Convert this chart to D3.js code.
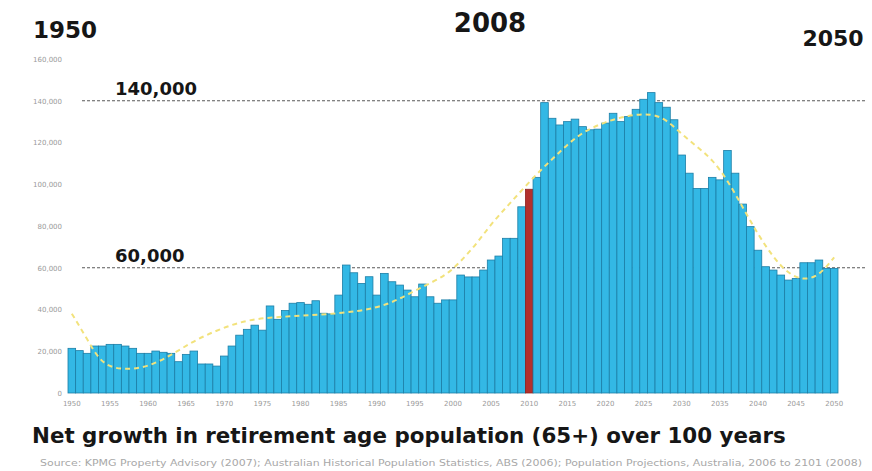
<!DOCTYPE html>
<html>
<head>
<meta charset="utf-8">
<script src="https://cdn.jsdelivr.net/npm/d3@7"></script>
<style>
    body { margin: 0; background: #fff; }
    .tick text { fill: #9a9a9a; font-family: "DejaVu Sans", sans-serif; font-size: 7px; }
    .tick line, .domain { display: none; }
    .big { font-family: "DejaVu Sans", sans-serif; font-weight: bold; fill: #161616; }
</style>
</head>
<body>
<div id="chart"></div>
<script>
'use strict';

// Data
const years = d3.range(1950, 2051);
const netGrowth = [
    21400, 20300, 19000, 22500, 22500, 23300, 23300, 22500, 21400, 19000,
    19000, 20100, 19500, 19000, 15000, 18500, 20100, 13900, 13900, 12900,
    17700, 22500, 27700, 30500, 32500, 30100, 41700, 35300, 39500, 43000,
    43300, 42500, 44200, 38200, 37900, 46900, 61300, 57600, 52500, 55700,
    46900, 57300, 53300, 51700, 49300, 46100, 52200, 46100, 43000, 44600,
    44600, 56500, 55600, 55600, 58900, 63700, 65600, 74100, 74100, 89200,
    97600, 103300, 139100, 131600, 128400, 130000, 131200, 127600, 126100, 126400,
    129300, 134000, 130000, 132400, 135900, 140700, 143900, 139100, 136900, 130900,
    114000, 105300, 98000, 98000, 103300, 102100, 116200, 105300, 90500, 79700,
    68400, 60500, 58900, 56500, 54100, 54900, 62400, 62400, 63700, 59700,
    59700
];
const highlightYear = 2010;

// Trend (yellow dashed)
const trendYears = [1950, 1952, 1954, 1957, 1960, 1963, 1966, 1969, 1972, 1975, 1980, 1985, 1990,
    1993, 1996, 1999, 2001, 2003, 2005, 2007, 2009, 2011, 2013, 2015, 2017, 2020, 2023, 2026,
    2028, 2030, 2032, 2034, 2036, 2038, 2040, 2042, 2044, 2046, 2048, 2050];
const trendValues = [38000, 26000, 13000, 11000, 12500, 18000, 25000, 30000, 34000, 36000, 37000, 38000, 40500,
    45000, 51000, 56000, 63000, 71000, 81000, 89000, 97000, 105000, 112000, 119000, 125000, 130000, 133000, 134000,
    131000, 124000, 118000, 112000, 102000, 89000, 76000, 65000, 57000, 54000, 56000, 65000];

// Ticks & labels
const yTicks = [0, 20000, 40000, 60000, 80000, 100000, 120000, 140000, 160000];
const xTickYears = [1950, 1955, 1960, 1965, 1970, 1975, 1980, 1985, 1990, 1995, 2000,
    2005, 2010, 2015, 2020, 2025, 2030, 2035, 2040, 2045, 2050];
const refLines = [140000, 60000];
const refLabels = ['140,000', '60,000'];
const headYears = ['1950', '2008', '2050'];
const titleText = 'Net growth in retirement age population (65+) over 100 years';
const sourceText = 'Source: KPMG Property Advisory (2007); Australian Historical Population Statistics, ABS (2006); Population Projections, Australia, 2006 to 2101 (2008)';


class NetGrowthChart {

    svgW = 872;
    svgH = 471;
    plot = {left: 68, right: 838, top: 59, bottom: 393};

    xScale = d3.scaleBand().paddingInner(0).paddingOuter(0);
    yScale = d3.scaleLinear();

    constructor(_target) {
        this.target = _target;
        this.init();
    }

    init() {
        const vis = this;

        vis.svg = d3.select(`#${vis.target}`)
            .append('svg')
            .attr('width', vis.svgW)
            .attr('height', vis.svgH);

        vis.xScale.domain(years).range([vis.plot.left, vis.plot.right]);
        vis.yScale.domain([0, 160000]).range([vis.plot.bottom, vis.plot.top]);

        vis.wrangle();
    }

    wrangle() {
        const vis = this;
        vis.barData = years.map((y, i) => ({year: y, value: netGrowth[i]}));
        vis.trendData = trendYears.map((y, i) => ({year: y, value: trendValues[i]}));
        vis.render();
    }

    render() {
        const vis = this;
        const x = vis.xScale, y = vis.yScale;

        // Axes
        vis.svg.append('g')
            .attr('transform', `translate(${vis.plot.left - 4},0)`)
            .call(d3.axisLeft(y).tickValues(yTicks).tickFormat(d3.format(',')).tickSize(0).tickPadding(2));
        vis.svg.append('g')
            .attr('transform', `translate(0,${vis.plot.bottom + 3})`)
            .call(d3.axisBottom(x).tickValues(xTickYears).tickSize(0).tickPadding(5));

        // Reference lines
        vis.svg.selectAll('.refLine')
            .data(refLines)
            .join('line')
            .attr('class', 'refLine')
            .attr('x1', 82)
            .attr('x2', 866)
            .attr('y1', d => y(d))
            .attr('y2', d => y(d))
            .attr('stroke', '#5a5a5a')
            .attr('stroke-width', 1.2)
            .attr('stroke-dasharray', '3,2');

        // Bars
        vis.svg.append('g')
            .selectAll('rect')
            .data(vis.barData)
            .join('rect')
            .attr('x', d => x(d.year))
            .attr('width', x.bandwidth())
            .attr('y', d => y(d.value))
            .attr('height', d => y(0) - y(d.value))
            .attr('fill', d => d.year === highlightYear ? '#b3302c' : '#33b8e5')
            .attr('stroke', d => d.year === highlightYear ? '#8e2420' : '#1c7ea6')
            .attr('stroke-width', 0.8);

        // Trend
        const line = d3.line()
            .x(d => x(d.year) + x.bandwidth() / 2)
            .y(d => y(d.value))
            .curve(d3.curveBasis);
        vis.svg.append('path')
            .datum(vis.trendData)
            .attr('d', line)
            .attr('fill', 'none')
            .attr('stroke', '#f2e27c')
            .attr('stroke-width', 2)
            .attr('stroke-dasharray', '5,4');

        // Reference labels
        vis.svg.selectAll('.refLabel')
            .data(refLabels)
            .join('text')
            .attr('class', 'refLabel big')
            .attr('x', 115)
            .attr('y', (d, i) => y(refLines[i]) - 5.5)
            .attr('font-size', 18)
            .text(d => d);

        // Heading years
        const headX = [33, 490, 833];
        const headY = [38, 32, 46];
        const headSize = [23, 26, 22];
        const headAnchor = ['start', 'middle', 'middle'];
        vis.svg.selectAll('.head')
            .data(headYears)
            .join('text')
            .attr('class', 'head big')
            .attr('x', (d, i) => headX[i])
            .attr('y', (d, i) => headY[i])
            .attr('font-size', (d, i) => headSize[i])
            .attr('text-anchor', (d, i) => headAnchor[i])
            .text(d => d);

        // Title & source
        vis.svg.append('text')
            .attr('class', 'big')
            .attr('x', 32)
            .attr('y', 443)
            .attr('font-size', 21.4)
            .text(titleText);
        vis.svg.append('text')
            .attr('x', 40)
            .attr('y', 466)
            .attr('font-family', 'DejaVu Sans, sans-serif')
            .attr('font-size', 8)
            .attr('fill', '#a8a8a8')
            .attr('textLength', 822)
            .attr('lengthAdjust', 'spacingAndGlyphs')
            .text(sourceText);
    }
}

new NetGrowthChart('chart');
</script>
</body>
</html>
